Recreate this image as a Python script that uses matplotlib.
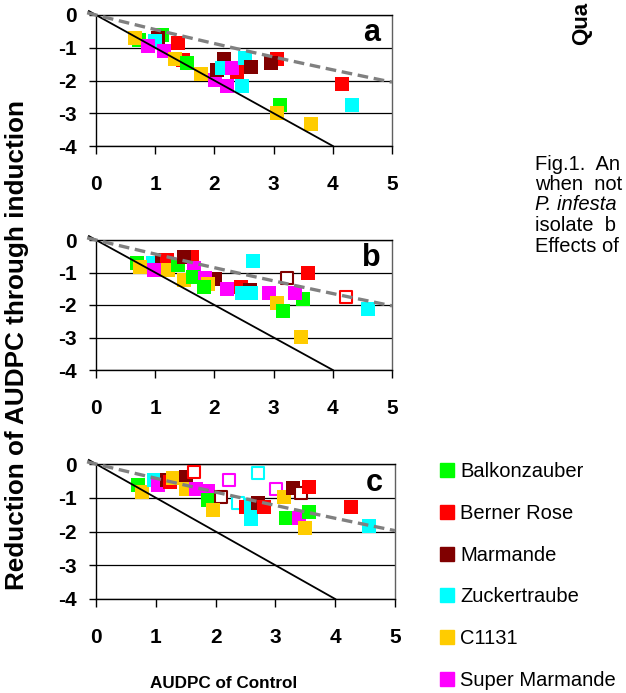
import matplotlib
matplotlib.use('Agg')
import matplotlib.pyplot as plt
from matplotlib.lines import Line2D
import numpy as np

plt.rcParams['font.family'] = ['Liberation Sans', 'DejaVu Sans']
plt.rcParams['axes.unicode_minus'] = False

cultivars = ['Balkonzauber', 'Berner Rose', 'Marmande', 'Zuckertraube', 'C1131', 'Super Marmande']
colors = ['#00FF00', '#FF0000', '#800000', '#00FFFF', '#FFCC00', '#FF00FF']

# cultivar index: 0 Balk, 1 Berner, 2 Marm, 3 Zuck, 4 C1131, 5 Super
a_x = [0.72, 1.11, 1.05, 1.00, 0.66, 0.88, 1.15, 1.39, 1.47, 1.33, 1.53, 1.77, 2.01, 2.21, 2.46,
       2.17, 2.04, 2.12, 2.38, 2.29, 2.51, 2.61, 3.05, 2.96, 3.11, 3.05, 3.63, 4.15, 4.32]
a_y = [-0.77, -0.61, -0.70, -0.79, -0.69, -0.94, -1.10, -0.87, -1.38, -1.35, -1.48, -1.81, -1.99, -2.16, -2.17,
       -1.33, -1.68, -1.63, -1.73, -1.63, -1.30, -1.58, -1.33, -1.48, -2.76, -2.99, -3.34, -2.11, -2.76]
a_c = [0, 0, 2, 3, 4, 5, 5, 1, 1, 4, 0, 4, 5, 5, 3,
       2, 2, 3, 1, 5, 3, 2, 1, 2, 0, 4, 4, 1, 3]
a_open = [0] * len(a_x)

b_x = [0.69, 0.96, 1.11, 1.20, 0.74, 0.98, 1.22, 1.39, 1.62, 1.49, 1.66, 1.49, 1.64, 2.01, 1.84, 1.90, 1.83,
       2.21, 2.45, 2.60, 2.46, 2.62, 2.65, 2.92, 3.22, 3.58, 3.05, 3.16, 3.50, 3.36, 3.46, 4.22, 4.59]
b_y = [-0.70, -0.72, -0.62, -0.62, -0.82, -0.92, -0.92, -0.77, -0.51, -0.51, -0.87, -1.23, -1.13, -1.21, -1.16, -1.36, -1.44,
       -1.52, -1.44, -1.54, -1.64, -1.64, -0.64, -1.64, -1.16, -1.01, -1.95, -2.17, -1.82, -1.64, -2.99, -1.76, -2.13]
b_c = [0, 3, 2, 1, 4, 5, 4, 0, 1, 2, 5, 4, 0, 2, 5, 4, 0,
       5, 1, 2, 3, 3, 3, 5, 2, 1, 4, 0, 0, 5, 4, 1, 3]
b_open = [0] * 24 + [1] + [0] * 6 + [1, 0]

c_x = [0.71, 0.77, 0.97, 1.04, 1.19, 1.23, 1.28, 1.50, 1.64, 1.50, 1.68, 1.87, 1.87, 2.09, 1.95, 2.22, 2.38,
       2.51, 2.59, 2.59, 2.71, 2.81, 2.71, 3.01, 3.15, 3.29, 3.42, 3.56, 3.17, 3.39, 3.56, 3.49, 4.27, 4.56]
c_y = [-0.62, -0.82, -0.46, -0.62, -0.46, -0.52, -0.41, -0.38, -0.23, -0.75, -0.75, -0.80, -1.07, -0.97, -1.37, -0.46, -1.15,
       -1.27, -1.22, -1.64, -1.17, -1.27, -0.28, -0.75, -0.97, -0.72, -0.85, -0.67, -1.61, -1.61, -1.41, -1.89, -1.27, -1.84]
c_c = [0, 4, 3, 5, 2, 1, 4, 2, 1, 4, 5, 5, 0, 2, 4, 5, 3,
       1, 3, 3, 2, 1, 3, 5, 4, 2, 2, 1, 0, 5, 0, 4, 1, 3]
c_open = [0] * 8 + [1] + [0] * 4 + [1, 0, 1, 1] + [0] * 5 + [1, 1, 0, 0, 1] + [0] * 7

# dashed curve y = p1*x + p2*x^2 for each panel
dash_coef = {'a': (-0.453, 0.0086), 'b': (-0.44, 0.007), 'c': (-0.43, 0.007)}

panels = [('a', a_x, a_y, a_c, a_open, [96, 392, 15, 146]),
          ('b', b_x, b_y, b_c, b_open, [96, 392, 240, 370]),
          ('c', c_x, c_y, c_c, c_open, [96, 395, 464, 599])]

W, H = 626, 693
fig = plt.figure(figsize=(W / 100, H / 100), dpi=100)

for name, xs, ys, cs, opn, box in panels:
    l, r, t, b = box
    ax = fig.add_axes([l / W, 1 - b / H, (r - l) / W, (b - t) / H])
    ax.set_xlim(0, 5)
    ax.set_ylim(-4, 0)
    for x, y, c, o in zip(xs, ys, cs, opn):
        if o:
            ax.scatter(x, y, s=80, marker='s', facecolor='white', edgecolor=colors[c], linewidths=1.5, zorder=3)
        else:
            ax.scatter(x, y, s=95, marker='s', color=colors[c], linewidths=0, zorder=3)
    ax.plot([-0.12, 4], [0.12, -4], color='black', lw=1.3, zorder=4, clip_on=False)
    p1, p2 = dash_coef[name]
    xx = np.linspace(-0.15, 5, 100)
    ax.plot(xx, p1 * xx + p2 * xx ** 2, color='#808080', lw=2.4, dashes=(3.2, 1.7), zorder=5, clip_on=False)
    ax.set_yticks([0, -1, -2, -3, -4])
    ax.set_xticks([0, 1, 2, 3, 4, 5])
    ax.set_yticklabels(['0', '-1', '-2', '-3', '-4'], fontweight='bold', fontsize=15)
    ax.set_xticklabels(['0', '1', '2', '3', '4', '5'], fontweight='bold', fontsize=15)
    ax.tick_params(axis='y', direction='out', length=5, width=1, pad=9)
    ax.tick_params(axis='x', direction='out', length=5.5, width=1, pad=15.5)
    ax.yaxis.grid(True, color='black', lw=0.9)
    ax.set_axisbelow(True)
    for s in ['left', 'bottom', 'top']:
        ax.spines[s].set_color('black')
        ax.spines[s].set_linewidth(1)
    ax.spines['right'].set_color('#606060')
    ax.spines['right'].set_linewidth(1)
    ax.text(0.931, 0.859, name, transform=ax.transAxes, ha='center', va='center',
            fontsize=22, fontweight='bold')

fig.text(17 / W, 1 - 345 / H, 'Reduction of AUDPC through induction', rotation=90,
         ha='center', va='center', fontsize=18.8, fontweight='bold')
fig.text(224 / W, 1 - 683 / H, 'AUDPC of Control', ha='center', va='center',
         fontsize=12.3, fontweight='bold')

handles = [Line2D([], [], marker='s', linestyle='', color=c, markersize=9.5) for c in colors]
fig.legend(handles, cultivars, loc='upper left', bbox_to_anchor=(427 / W, 1 - 452 / H),
           frameon=False, fontsize=14.5, handletextpad=0.15, handlelength=1.0,
           labelspacing=1.13, borderpad=0)

fig.text(582 / W, 1 - 45 / H, 'Qua', rotation=90, ha='center', va='bottom',
         fontsize=16, fontweight='bold')
caption = ['Fig.1.  An', 'when  not', 'P. infesta', 'isolate  b', 'Effects of']
for i, line in enumerate(caption):
    fig.text(535 / W, 1 - (164 + i * 20.5) / H, line, ha='left', va='center', fontsize=14.5,
             style='italic' if i == 2 else 'normal')

fig.savefig('out.png', dpi=100)
